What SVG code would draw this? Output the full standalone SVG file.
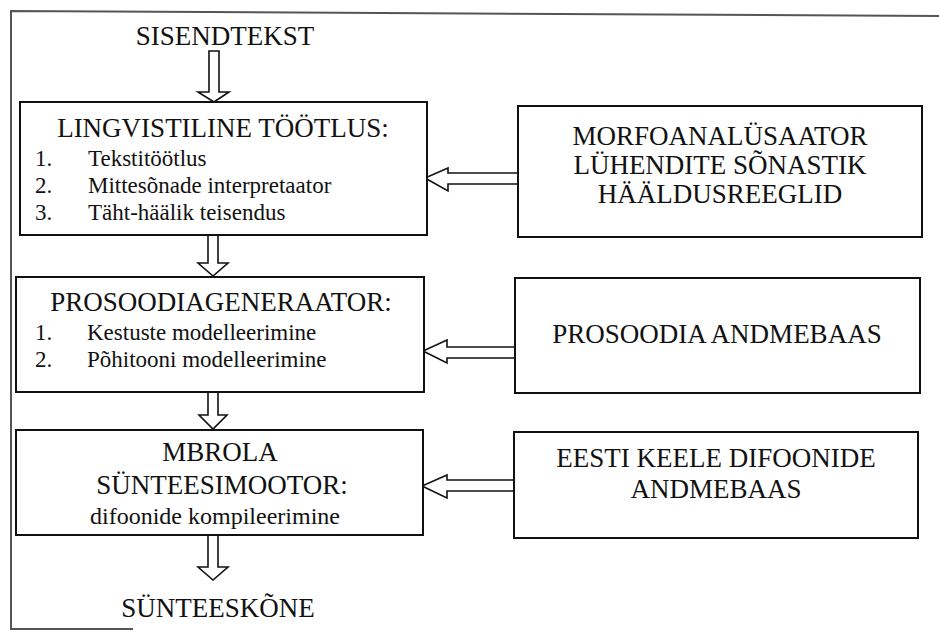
<svg xmlns="http://www.w3.org/2000/svg" width="939" height="635" viewBox="0 0 939 635">
<style>
text{font-family:"Liberation Serif","Times New Roman",serif;fill:#111}
.t{font-size:27px}
.s{font-size:23px}
.m{font-size:24px}
.c{text-anchor:middle}
.box{fill:#fff;stroke:#111;stroke-width:2}
.arr{fill:#fff;stroke:#111;stroke-width:1.6;stroke-linejoin:miter}
.frame{fill:none;stroke:#555;stroke-width:2}
</style>
<rect width="939" height="635" fill="#fff"/>
<path class="frame" d="M939,16 L11,11 L11,629 L133,629"/>
<g id="connectors">
<polygon class="arr" points="209,51 219,51 219,92 229,92 214,102 198,92 209,92"/>
<polygon class="arr" points="208,235 218,235 218,263 228,263 213,276 198,263 208,263"/>
<polygon class="arr" points="208,392 218,392 218,415 227,415 213,429 199,415 208,415"/>
<polygon class="arr" points="208,535 218,535 218,567 228,567 213,580 198,567 208,567"/>
<polygon class="arr" points="518,173 448,173 448,168 425,178 448,191 448,184 518,184"/>
<polygon class="arr" points="515,347 447,347 447,340 423,351 447,363 447,358 515,358"/>
<polygon class="arr" points="514,480 447,480 447,475 422,486 447,498 447,491 514,491"/>
</g>
<g id="sisendtekst"><text class="t c" x="225" y="45">SISENDTEKST</text></g>
<g id="lingvistiline">
<rect class="box" x="20" y="102" width="407" height="133"/>
<text class="t c" x="223" y="137">LINGVISTILINE TÖÖTLUS:</text>
<text class="s" x="35" y="166">1.</text><text class="s" x="88" y="166">Tekstitöötlus</text>
<text class="s" x="35" y="193">2.</text><text class="s" x="88" y="193">Mittesõnade interpretaator</text>
<text class="s" x="35" y="220">3.</text><text class="s" x="88" y="220">Täht-häälik teisendus</text>
</g>
<g id="morfo">
<rect class="box" x="518" y="106" width="404" height="131"/>
<text class="t c" x="720" y="145">MORFOANALÜSAATOR</text>
<text class="t c" x="720" y="174">LÜHENDITE SÕNASTIK</text>
<text class="t c" x="720" y="203">HÄÄLDUSREEGLID</text>
</g>
<g id="prosoodiagen">
<rect class="box" x="16" y="277" width="408" height="115"/>
<text class="t c" x="221" y="311">PROSOODIAGENERAATOR:</text>
<text class="s" x="35" y="340">1.</text><text class="s" x="87" y="340">Kestuste modelleerimine</text>
<text class="s" x="35" y="367">2.</text><text class="s" x="87" y="367">Põhitooni modelleerimine</text>
</g>
<g id="prosoodiadb">
<rect class="box" x="515" y="278" width="405" height="115"/>
<text class="t c" x="717" y="343">PROSOODIA ANDMEBAAS</text>
</g>
<g id="mbrola">
<rect class="box" x="16" y="430" width="407" height="105"/>
<text class="t c" x="220" y="461">MBROLA</text>
<text class="t c" x="222" y="494">SÜNTEESIMOOTOR:</text>
<text class="m c" x="215" y="524">difoonide kompileerimine</text>
</g>
<g id="difoonid">
<rect class="box" x="514" y="432" width="404" height="106"/>
<text class="t c" x="716" y="467">EESTI KEELE DIFOONIDE</text>
<text class="t c" x="716" y="498">ANDMEBAAS</text>
</g>
<g id="synteeskone"><text class="t c" x="218" y="617">SÜNTEESKÕNE</text></g>
</svg>
